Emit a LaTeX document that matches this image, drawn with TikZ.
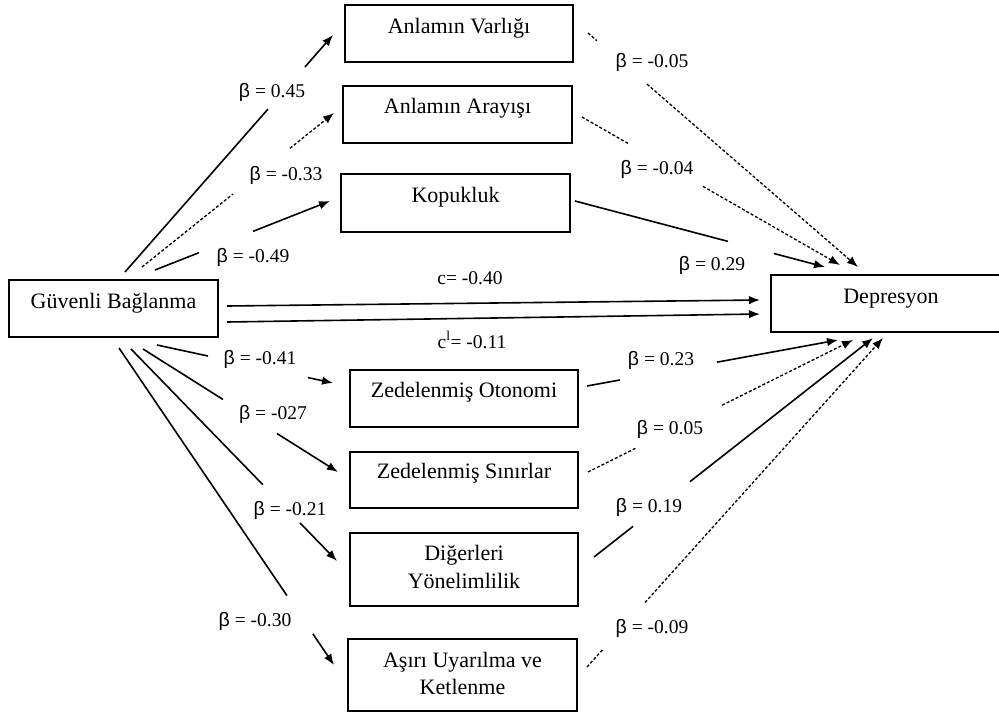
\documentclass[tikz,border=0pt]{standalone}
\usepackage{fontspec}
\setmainfont{Liberation Serif}
\newfontfamily\betafont{Liberation Sans}
\usetikzlibrary{arrows.meta,calc}
\newcommand{\bt}{{\betafont β}}
\newcommand{\gapconn}[6]{%
  \path (#2) -- (#3) coordinate[pos=#4] (#6a) coordinate[pos=#5] (#6b);
  \draw[#1] (#2) -- (#6a);
  \draw[#1,arr] (#6b) -- (#3);}
\begin{document}
\begin{tikzpicture}[x=1pt,y=-1pt,
  box/.style={draw, line width=1.5pt, inner sep=0pt, outer sep=0pt, anchor=north west},
  txt/.style={font=\fontsize{22}{26}\selectfont, inner sep=0pt, anchor=base},
  lab/.style={font=\fontsize{19.5}{22}\selectfont, inner sep=0pt, anchor=base},
  arr/.style={-{Latex[length=11pt,width=8.5pt]}},
  solidline/.style={line width=1.6pt},
  dotline/.style={line width=1.3pt, dash pattern=on 3pt off 2pt}]
\useasboundingbox (0,0) rectangle (999,715);
\fill[white] (0,0) rectangle (999,715);

% boxes
\node[box, minimum width=228pt, minimum height=57pt] (var) at (345,5) {};
\node[box, minimum width=229pt, minimum height=57pt] (ara) at (343,86) {};
\node[box, minimum width=229pt, minimum height=58pt] (kop) at (341,174) {};
\node[box, minimum width=209pt, minimum height=57pt] (gb) at (9,280) {};
\node[box, minimum width=240pt, minimum height=57pt] (dep) at (771,275) {};
\node[box, minimum width=228pt, minimum height=57pt] (oto) at (350,370) {};
\node[box, minimum width=228pt, minimum height=56pt] (sin) at (350,452) {};
\node[box, minimum width=228pt, minimum height=73pt] (dig) at (350,533) {};
\node[box, minimum width=229pt, minimum height=72pt] (asi) at (348,639) {};

% box texts
\node[txt] (tvar) at ($(var.north)+(0,28)$) {Anlamın Varlığı};
\node[txt] (tara) at ($(ara.north)+(0,27)$) {Anlamın Arayışı};
\node[txt] (tkop) at ($(kop.north)+(0,28)$) {Kopukluk};
\node[txt] (tgb) at ($(gb.north)+(0,28)$) {Güvenli Bağlanma};
\node[txt] (tdep) at ($(dep.north)+(0,28)$) {Depresyon};
\node[txt] (toto) at ($(oto.north)+(0,27)$) {Zedelenmiş Otonomi};
\node[txt] (tsin) at ($(sin.north)+(0,26)$) {Zedelenmiş Sınırlar};
\node[txt] (tdig1) at ($(dig.north)+(0,27)$) {Diğerleri};
\node[txt] (tdig2) at ($(dig.north)+(0,55)$) {Yönelimlilik};
\node[txt] (tasi1) at ($(asi.north)+(0,28)$) {Aşırı Uyarılma ve};
\node[txt] (tasi2) at ($(asi.north)+(0,55)$) {Ketlenme};

% connector end points
\coordinate (s1) at (125,272);  \coordinate (e1) at (333,35);
\coordinate (s2) at (142,267);  \coordinate (e2) at (334,113);
\coordinate (s3) at (155,270);  \coordinate (e3) at (330,201);
\coordinate (s4) at (588,33);   \coordinate (e4) at (858,267);
\coordinate (s5) at (582,117);  \coordinate (e5) at (840,265);
\coordinate (s6) at (575,201);  \coordinate (e6) at (825,267);
\coordinate (s7) at (227,306);  \coordinate (e7) at (760,300);
\coordinate (s7b) at (227,322); \coordinate (e7b) at (760,314);
\coordinate (s8) at (157,345);  \coordinate (e8) at (333,383);
\coordinate (s9) at (143,349);  \coordinate (e9) at (338,472);
\coordinate (s10) at (131,349); \coordinate (e10) at (337,561);
\coordinate (s11) at (119,348); \coordinate (e11) at (334,665);
\coordinate (s12) at (587,386); \coordinate (e12) at (838,340);
\coordinate (s13) at (588,472); \coordinate (e13) at (853,340);
\coordinate (s14) at (594,557); \coordinate (e14) at (873,338);
\coordinate (s15) at (587,667); \coordinate (e15) at (883,338);

% connectors
\gapconn{solidline}{s1}{e1}{0.6875}{0.865}{g1}
\gapconn{dotline}{s2}{e2}{0.474}{0.771}{g2}
\gapconn{solidline}{s3}{e3}{0.251}{0.56}{g3}
\gapconn{dotline}{s4}{e4}{0.033}{0.2185}{g4}
\gapconn{dotline}{s5}{e5}{0.178}{0.469}{g5}
\gapconn{solidline}{s6}{e6}{0.612}{0.796}{g6}
\draw[solidline,arr] (s7) -- (e7);
\draw[solidline,arr] (s7b) -- (e7b);
\gapconn{solidline}{s8}{e8}{0.29}{0.858}{g8}
\gapconn{solidline}{s9}{e9}{0.41}{0.687}{g9}
\gapconn{solidline}{s10}{e10}{0.64}{0.82}{g10}
\gapconn{solidline}{s11}{e11}{0.781}{0.902}{g11}
\gapconn{solidline}{s12}{e12}{0.131}{0.518}{g12}
\gapconn{dotline}{s13}{e13}{0.185}{0.506}{g13}
\gapconn{solidline}{s14}{e14}{0.14}{0.344}{g14}
\gapconn{dotline}{s15}{e15}{0.054}{0.196}{g15}

% labels
\node[lab] (l1) at (272,97) {\bt{} = 0.45};
\node[lab] (l2) at (286,180) {\bt{} = -0.33};
\node[lab] (l3) at (253,262) {\bt{} = -0.49};
\node[lab] (l4) at (652,67) {\bt{} = -0.05};
\node[lab] (l5) at (657,174) {\bt{} = -0.04};
\node[lab] (l6) at (712,270) {\bt{} = 0.29};
\node[lab] (lc1) at (470,284) {c= -0.40};
\node[lab] (lc2) at (472,348) {c\textsuperscript{l}= -0.11};
\node[lab] (l8) at (260,364) {\bt{} = -0.41};
\node[lab] (l9) at (273,419) {\bt{} = -027};
\node[lab] (l10) at (290,515) {\bt{} = -0.21};
\node[lab] (l11) at (255,626) {\bt{} = -0.30};
\node[lab] (l12) at (661,365) {\bt{} = 0.23};
\node[lab] (l13) at (670,434) {\bt{} = 0.05};
\node[lab] (l14) at (649,512) {\bt{} = 0.19};
\node[lab] (l15) at (652,633) {\bt{} = -0.09};
\end{tikzpicture}
\end{document}
